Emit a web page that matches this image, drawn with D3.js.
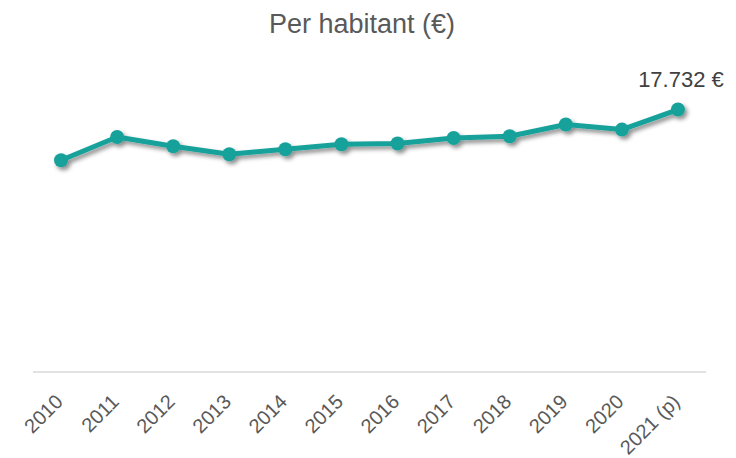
<!DOCTYPE html>
<html>
<head>
<meta charset="utf-8">
<script src="https://cdn.jsdelivr.net/npm/d3@7"></script>
<style>
  body { margin: 0; background: #fff; }
  text { font-family: "Liberation Sans", Arial, sans-serif; fill: #595959; }
</style>
</head>
<body>
<script>
var years = ["2010", "2011", "2012", "2013", "2014", "2015", "2016", "2017", "2018", "2019", "2020", "2021 (p)"];
var perCapita = [14310, 15880, 15255, 14715, 15050, 15390, 15440, 15815, 15930, 16720, 16380, 17732];
var chartTitle = "Per habitant (€)";

var width = 736,
    height = 458,
    left = 33,
    right = 706,
    baseline = 372;

var svg = d3.select("body")
    .append("svg")
    .attr("width", width)
    .attr("height", height);

// soft shadow under the line and markers
var filter = svg.append("defs").append("filter")
    .attr("id", "shadow")
    .attr("x", "-20%").attr("y", "-50%")
    .attr("width", "140%").attr("height", "200%");
filter.append("feDropShadow")
    .attr("dx", 2.5).attr("dy", 3)
    .attr("stdDeviation", 2.2)
    .attr("flood-color", "#000")
    .attr("flood-opacity", 0.45);

var x = d3.scaleBand()
    .domain(years)
    .range([left, right]);

var y = d3.scaleLinear()
    .domain([0, 20000])
    .range([baseline, 76]);

//title
svg.append("text")
    .attr("x", 362)
    .attr("y", 33)
    .attr("text-anchor", "middle")
    .style("font-size", "27px")
    .text(chartTitle);

//x axis line
svg.append("line")
    .attr("x1", left).attr("x2", right)
    .attr("y1", baseline).attr("y2", baseline)
    .style("stroke", "#d9d9d9")
    .style("stroke-width", "1.5px");

//rotated year labels
svg.selectAll(".tick-label")
    .data(years)
    .enter().append("text")
    .attr("class", "tick-label")
    .attr("text-anchor", "end")
    .attr("transform", function (d) {
        return "translate(" + (x(d) + x.bandwidth() / 2 + 3) + "," + (baseline + 31) + ") rotate(-45)";
    })
    .style("font-size", "20px")
    .text(function (d) { return d; });

var pts = years.map(function (d, i) { return { year: d, value: perCapita[i] }; });

var line = d3.line()
    .x(function (d) { return x(d.year) + x.bandwidth() / 2; })
    .y(function (d) { return y(d.value); });

var g = svg.append("g").attr("filter", "url(#shadow)");

g.append("path")
    .datum(pts)
    .attr("d", line)
    .style("fill", "none")
    .style("stroke", "#18a19a")
    .style("stroke-width", "5px")
    .style("stroke-linejoin", "round");

g.selectAll("circle")
    .data(pts)
    .enter().append("circle")
    .attr("cx", function (d) { return x(d.year) + x.bandwidth() / 2; })
    .attr("cy", function (d) { return y(d.value); })
    .attr("r", 7)
    .style("fill", "#18a19a");

//label of the last value
var last = pts[pts.length - 1];
svg.append("text")
    .attr("x", x(last.year) + x.bandwidth() / 2 + 3)
    .attr("y", y(last.value) - 23)
    .attr("text-anchor", "middle")
    .style("font-size", "22px")
    .style("fill", "#404040")
    .text(d3.format(",")(last.value).replace(",", ".") + " €");
</script>
</body>
</html>
